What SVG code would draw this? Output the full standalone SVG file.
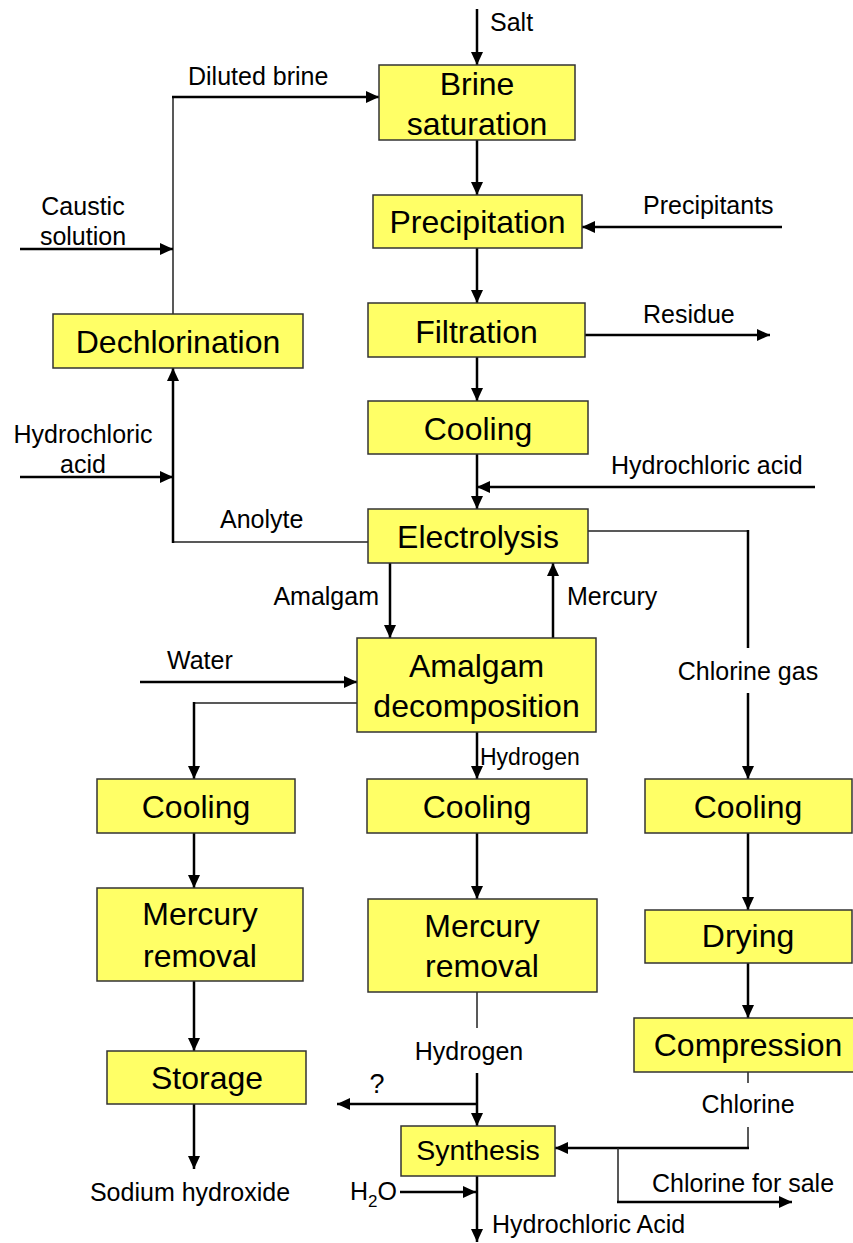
<svg xmlns="http://www.w3.org/2000/svg" width="853" height="1243" viewBox="0 0 853 1243">
<style>
.box{fill:#ffff66;stroke:#333;stroke-width:1.5}
.bt{font-family:"Liberation Sans",Arial,Helvetica,sans-serif;font-size:32px;fill:#000;text-anchor:middle}
.lb{font-family:"Liberation Sans",Arial,Helvetica,sans-serif;font-size:25px;fill:#000}
.thick{fill:none;stroke:#000;stroke-width:2.5}
.thin{fill:none;stroke:#222;stroke-width:1.5}
</style>
<defs>
<marker id="ah" markerUnits="userSpaceOnUse" markerWidth="14" markerHeight="12" refX="13" refY="6" orient="auto">
<path d="M0,0 L13,6 L0,12 Z" fill="#000"/>
</marker>
</defs>
<rect width="853" height="1243" fill="#fff"/>
<g id="connectors">
<line class="thick" x1="477" y1="9" x2="477" y2="65" marker-end="url(#ah)"/>
<line class="thick" x1="477" y1="140" x2="477" y2="195" marker-end="url(#ah)"/>
<line class="thick" x1="477" y1="248" x2="477" y2="303" marker-end="url(#ah)"/>
<line class="thick" x1="477" y1="357" x2="477" y2="401" marker-end="url(#ah)"/>
<line class="thick" x1="477" y1="454" x2="477" y2="509" marker-end="url(#ah)"/>
<line class="thick" x1="815" y1="487" x2="477" y2="487" marker-end="url(#ah)"/>
<line class="thick" x1="782" y1="227" x2="582" y2="227" marker-end="url(#ah)"/>
<line class="thick" x1="585" y1="335" x2="770" y2="335" marker-end="url(#ah)"/>
<line class="thin" x1="173" y1="314" x2="173" y2="97"/>
<line class="thick" x1="172" y1="97" x2="379" y2="97" marker-end="url(#ah)"/>
<line class="thick" x1="20" y1="249" x2="173" y2="249" marker-end="url(#ah)"/>
<line class="thick" x1="20" y1="477" x2="173" y2="477" marker-end="url(#ah)"/>
<line class="thin" x1="368" y1="542" x2="172" y2="542"/>
<line class="thick" x1="173" y1="543" x2="173" y2="368" marker-end="url(#ah)"/>
<line class="thick" x1="390" y1="563" x2="390" y2="638" marker-end="url(#ah)"/>
<line class="thick" x1="553" y1="638" x2="553" y2="563" marker-end="url(#ah)"/>
<line class="thick" x1="140" y1="682" x2="357" y2="682" marker-end="url(#ah)"/>
<line class="thin" x1="357" y1="703" x2="194" y2="703"/>
<line class="thick" x1="194" y1="702" x2="194" y2="779" marker-end="url(#ah)"/>
<line class="thick" x1="477" y1="732" x2="477" y2="779" marker-end="url(#ah)"/>
<line class="thin" x1="588" y1="531" x2="749" y2="531"/>
<line class="thick" x1="748" y1="530" x2="748" y2="648"/>
<line class="thick" x1="748" y1="693" x2="748" y2="779" marker-end="url(#ah)"/>
<line class="thick" x1="194" y1="833" x2="194" y2="888" marker-end="url(#ah)"/>
<line class="thick" x1="194" y1="981" x2="194" y2="1051" marker-end="url(#ah)"/>
<line class="thick" x1="194" y1="1104" x2="194" y2="1169" marker-end="url(#ah)"/>
<line class="thick" x1="477" y1="833" x2="477" y2="899" marker-end="url(#ah)"/>
<line class="thick" x1="748" y1="833" x2="748" y2="910" marker-end="url(#ah)"/>
<line class="thick" x1="748" y1="963" x2="748" y2="1018" marker-end="url(#ah)"/>
<line class="thin" x1="477" y1="992" x2="477" y2="1028"/>
<line class="thick" x1="477" y1="1073" x2="477" y2="1126" marker-end="url(#ah)"/>
<line class="thick" x1="477" y1="1104" x2="337" y2="1104" marker-end="url(#ah)"/>
<line class="thick" x1="400" y1="1192" x2="476" y2="1192" marker-end="url(#ah)"/>
<line class="thick" x1="477" y1="1176" x2="477" y2="1242" marker-end="url(#ah)"/>
<line class="thin" x1="748" y1="1072" x2="748" y2="1083"/>
<line class="thin" x1="748" y1="1127" x2="748" y2="1149"/>
<line class="thick" x1="749" y1="1148" x2="555" y2="1148" marker-end="url(#ah)"/>
<line class="thin" x1="618" y1="1148" x2="618" y2="1203"/>
<line class="thick" x1="617" y1="1202" x2="792" y2="1202" marker-end="url(#ah)"/>
</g>
<g id="labels">
<text class="lb" x="490" y="31">Salt</text>
<text class="lb" x="188" y="85">Diluted brine</text>
<text class="lb" x="643" y="214">Precipitants</text>
<text class="lb" x="643" y="323">Residue</text>
<text class="lb" x="83" y="215" text-anchor="middle">Caustic</text>
<text class="lb" x="83" y="245" text-anchor="middle">solution</text>
<text class="lb" x="83" y="443" text-anchor="middle">Hydrochloric</text>
<text class="lb" x="83" y="473" text-anchor="middle">acid</text>
<text class="lb" x="611" y="474">Hydrochloric acid</text>
<text class="lb" x="220" y="528">Anolyte</text>
<text class="lb" x="379" y="605" text-anchor="end">Amalgam</text>
<text class="lb" x="567" y="605">Mercury</text>
<text class="lb" x="167" y="669">Water</text>
<text class="lb" x="480" y="765" style="font-size:23px">Hydrogen</text>
<text class="lb" x="748" y="680" text-anchor="middle">Chlorine gas</text>
<text class="lb" x="469" y="1060" text-anchor="middle">Hydrogen</text>
<text class="lb" x="377" y="1093" text-anchor="middle" style="font-size:27px">?</text>
<text class="lb" x="748" y="1113" text-anchor="middle">Chlorine</text>
<text class="lb" x="652" y="1192">Chlorine for sale</text>
<text class="lb" x="190" y="1201" text-anchor="middle">Sodium hydroxide</text>
<text class="lb" x="350" y="1200">H<tspan font-size="17" dy="7">2</tspan><tspan dy="-7">O</tspan></text>
<text class="lb" x="492" y="1233">Hydrochloric Acid</text>
</g>
<g id="n-brine"><rect class="box" x="379" y="65" width="196" height="75"/><text class="bt" x="477" y="95">Brine</text><text class="bt" x="477" y="135">saturation</text></g>
<g id="n-precip"><rect class="box" x="373" y="195" width="209" height="53"/><text class="bt" x="477.5" y="233">Precipitation</text></g>
<g id="n-filtr"><rect class="box" x="368" y="303" width="217" height="54"/><text class="bt" x="476.5" y="343">Filtration</text></g>
<g id="n-dechl"><rect class="box" x="53" y="314" width="250" height="54"/><text class="bt" x="178" y="353">Dechlorination</text></g>
<g id="n-cool1"><rect class="box" x="368" y="401" width="220" height="53"/><text class="bt" x="478" y="440">Cooling</text></g>
<g id="n-electro"><rect class="box" x="368" y="509" width="220" height="54"/><text class="bt" x="478" y="548">Electrolysis</text></g>
<g id="n-amalg"><rect class="box" x="357" y="638" width="239" height="94"/><text class="bt" x="476.5" y="677">Amalgam</text><text class="bt" x="476.5" y="717">decomposition</text></g>
<g id="n-cool2"><rect class="box" x="97" y="779" width="198" height="54"/><text class="bt" x="196" y="818">Cooling</text></g>
<g id="n-cool3"><rect class="box" x="367" y="779" width="220" height="54"/><text class="bt" x="477" y="818">Cooling</text></g>
<g id="n-cool4"><rect class="box" x="645" y="779" width="207" height="54"/><text class="bt" x="748" y="818">Cooling</text></g>
<g id="n-hgrem1"><rect class="box" x="97" y="888" width="206" height="93"/><text class="bt" x="200" y="925">Mercury</text><text class="bt" x="200" y="967">removal</text></g>
<g id="n-hgrem2"><rect class="box" x="368" y="899" width="229" height="93"/><text class="bt" x="482" y="937">Mercury</text><text class="bt" x="482" y="977">removal</text></g>
<g id="n-dry"><rect class="box" x="645" y="910" width="207" height="53"/><text class="bt" x="748" y="947">Drying</text></g>
<g id="n-compr"><rect class="box" x="634" y="1018" width="228" height="54"/><text class="bt" x="748" y="1056">Compression</text></g>
<g id="n-storage"><rect class="box" x="107" y="1051" width="199" height="53"/><text class="bt" x="207" y="1089">Storage</text></g>
<g id="n-synth"><rect class="box" x="401" y="1126" width="154" height="50"/><text class="bt" x="478" y="1160" style="font-size:28.5px">Synthesis</text></g>
</svg>
